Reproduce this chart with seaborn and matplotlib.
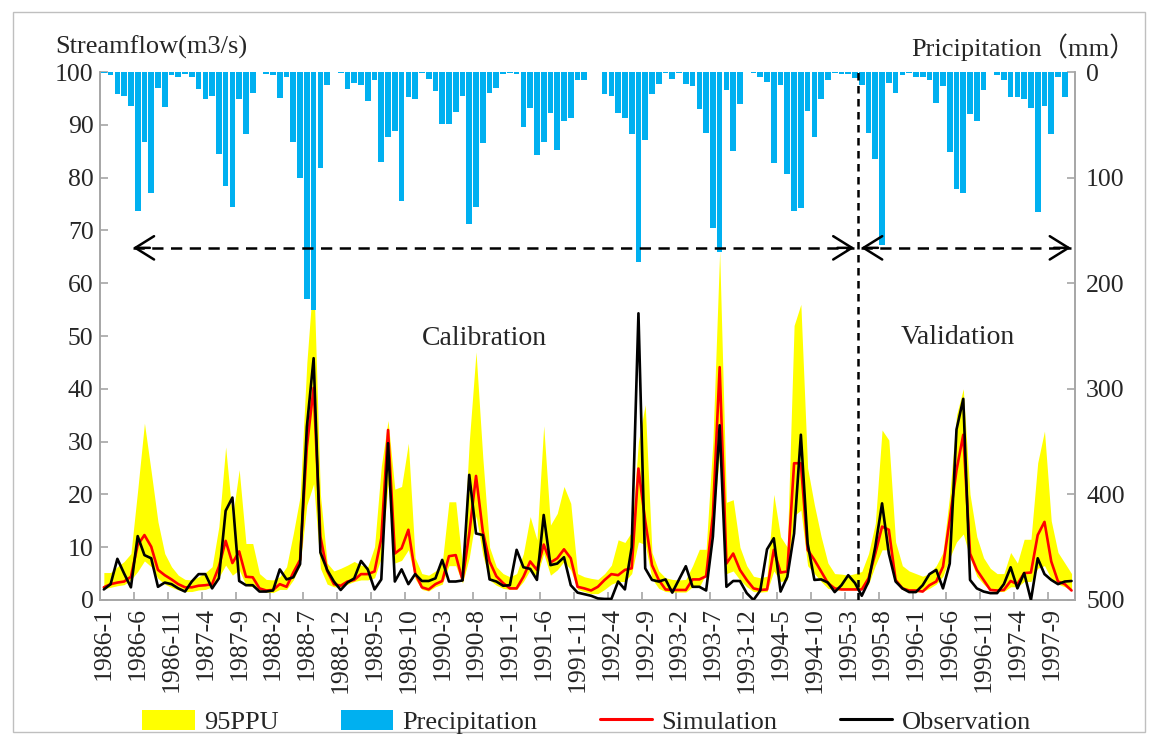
import numpy as np
import matplotlib
matplotlib.use("Agg")
import matplotlib.pyplot as plt
from matplotlib.patches import Patch, Rectangle
from matplotlib.lines import Line2D
import seaborn as sns

# ---------------- data (monthly, 1986-1 .. 1997-12) ----------------
precip = [
    1, 3, 21, 23, 32, 132, 66, 115, 15, 33, 3, 5,
    2, 5, 16, 26, 23, 78, 108, 128, 26, 59, 20, 0,
    2, 3, 25, 5, 66, 100, 215, 225, 91, 12, 0, 1,
    16, 10, 12, 27, 8, 85, 62, 56, 122, 24, 26, 1,
    7, 18, 49, 49, 38, 23, 144, 128, 67, 20, 15, 2,
    1, 2, 52, 34, 79, 66, 39, 74, 46, 44, 8, 8,
    0, 0, 21, 23, 39, 44, 59, 180, 64, 21, 11, 1,
    7, 1, 11, 13, 35, 58, 148, 170, 17, 75, 30, 0,
    1, 5, 9, 86, 12, 97, 132, 129, 37, 62, 26, 8,
    1, 2, 2, 6, 12, 58, 82, 164, 10, 20, 3, 1,
    5, 5, 8, 29, 13, 76, 111, 115, 40, 46, 17, 0,
    3, 8, 24, 24, 26, 34, 133, 32, 59, 5, 24, 0]

observation = [
    2.0, 3.0, 7.8, 5.0, 2.4, 12.1, 8.5, 7.9, 2.5, 3.3, 3.0, 2.2,
    1.6, 3.5, 4.9, 4.9, 2.2, 4.1, 16.9, 19.4, 3.6, 2.8, 2.8, 1.6,
    1.6, 1.8, 5.8, 3.9, 4.3, 6.8, 32.8, 45.8, 9.0, 5.7, 3.5, 1.9,
    3.3, 4.1, 7.4, 5.8, 2.0, 3.9, 29.7, 3.5, 5.8, 3.0, 4.9, 3.6,
    3.6, 4.1, 7.6, 3.5, 3.5, 3.7, 23.7, 12.6, 12.3, 3.9, 3.5, 2.7,
    2.8, 9.5, 6.2, 5.9, 3.8, 16.1, 6.6, 6.9, 8.1, 2.8, 1.4, 1.1,
    0.8, 0.3, 0.2, 0.2, 3.5, 2.0, 10.0, 54.3, 6.0, 3.8, 3.5, 3.9,
    1.4, 3.9, 6.4, 2.5, 2.5, 1.8, 12.0, 33.1, 2.5, 3.6, 3.6, 1.3,
    0.0, 1.8, 9.6, 11.7, 1.6, 4.4, 12.6, 31.3, 10.7, 3.8, 3.9, 3.3,
    1.5, 2.8, 4.7, 3.2, 0.8, 3.5, 10.1, 18.3, 8.8, 3.5, 2.2, 1.5,
    1.5, 2.8, 4.9, 5.7, 2.2, 6.9, 32.3, 38.1, 3.8, 2.2, 1.6, 1.3,
    1.3, 3.0, 6.2, 2.2, 5.1, 0.0, 7.9, 4.9, 3.8, 3.0, 3.5, 3.6]

simulation = [
    2.4, 3.0, 3.3, 3.5, 4.4, 10.4, 12.3, 10.1, 5.7, 4.7, 3.9, 3.0,
    2.4, 2.4, 2.7, 2.8, 3.0, 6.3, 11.2, 7.0, 9.2, 4.4, 4.3, 2.2,
    1.8, 1.9, 3.0, 2.5, 5.2, 7.6, 29.0, 40.2, 12.0, 5.5, 3.0, 2.7,
    3.5, 3.8, 4.9, 4.9, 5.4, 11.7, 32.2, 8.8, 9.8, 13.3, 5.1, 2.4,
    2.0, 3.0, 3.6, 8.3, 8.5, 3.8, 12.6, 23.5, 13.0, 7.3, 4.5, 3.2,
    2.2, 2.2, 4.4, 7.3, 5.7, 10.5, 7.1, 7.9, 9.6, 7.9, 2.5, 2.2,
    1.8, 2.5, 3.8, 4.9, 4.7, 5.7, 6.0, 24.9, 15.0, 6.6, 3.8, 2.0,
    1.9, 1.9, 1.9, 3.9, 3.9, 4.5, 16.0, 44.1, 6.9, 8.8, 5.7, 3.8,
    2.2, 1.9, 2.0, 9.5, 5.2, 5.4, 25.9, 25.9, 9.5, 7.6, 5.4, 3.2,
    2.2, 2.0, 2.0, 2.0, 2.0, 4.1, 8.8, 13.9, 13.3, 3.8, 2.2, 1.8,
    1.8, 1.6, 2.8, 3.5, 6.3, 15.2, 24.6, 31.3, 8.8, 5.7, 3.8, 1.9,
    1.8, 1.9, 3.6, 3.0, 5.1, 5.2, 12.3, 14.8, 7.3, 3.5, 3.0, 1.8]

ppu_upper = [
    5.2, 5.2, 6.3, 7.3, 8.8, 20.8, 33.5, 24.3, 14.8, 8.8, 6.3, 4.7,
    3.9, 3.8, 4.4, 5.2, 6.3, 13.9, 29.0, 15.5, 24.7, 10.7, 10.7, 5.0,
    3.9, 3.8, 4.4, 6.3, 12.6, 19.6, 45.0, 62.0, 20.0, 7.0, 5.5, 6.0,
    6.6, 7.3, 6.6, 6.3, 10.1, 25.3, 34.0, 21.0, 21.5, 29.7, 8.0, 5.0,
    4.7, 5.5, 7.0, 18.6, 18.6, 6.5, 30.0, 47.0, 27.0, 10.0, 6.3, 5.0,
    4.4, 5.0, 8.8, 15.8, 11.4, 33.0, 14.2, 16.4, 21.5, 18.3, 5.0, 4.4,
    4.1, 3.9, 5.0, 6.6, 11.4, 10.9, 12.9, 30.0, 37.0, 9.0, 5.5, 4.2,
    3.9, 3.8, 3.9, 6.5, 9.6, 9.6, 30.0, 66.0, 18.5, 19.0, 10.0, 6.5,
    4.5, 4.2, 4.5, 20.0, 12.0, 10.0, 52.0, 56.0, 25.0, 18.0, 12.0, 7.0,
    5.0, 4.9, 4.7, 5.0, 5.4, 8.8, 14.5, 32.2, 30.3, 11.0, 6.5, 5.5,
    5.0, 4.5, 5.0, 6.5, 9.0, 20.0, 35.0, 40.0, 20.0, 12.0, 8.0, 6.0,
    5.0, 5.0, 9.0, 7.0, 11.5, 11.5, 26.0, 32.0, 15.0, 9.0, 7.0, 5.0]

ppu_lower = [
    2.2, 2.4, 2.7, 2.9, 3.8, 5.4, 7.4, 6.3, 4.1, 3.0, 2.4, 1.9,
    1.6, 1.6, 1.9, 2.0, 2.5, 4.3, 6.6, 4.7, 5.7, 2.8, 2.5, 1.8,
    1.5, 1.4, 2.0, 2.0, 3.8, 6.6, 18.0, 22.0, 6.0, 3.0, 2.5, 2.4,
    3.0, 3.5, 3.8, 3.8, 4.2, 8.0, 22.0, 7.0, 7.5, 9.5, 4.0, 2.0,
    1.7, 2.5, 3.0, 6.5, 6.5, 3.2, 8.0, 16.0, 8.5, 3.8, 2.8, 2.2,
    2.0, 2.0, 3.5, 5.7, 4.5, 8.8, 4.7, 5.7, 7.3, 5.7, 2.0, 1.6,
    1.2, 1.2, 2.0, 3.0, 3.5, 3.5, 5.0, 11.0, 10.5, 4.0, 2.2, 1.6,
    1.5, 1.5, 1.5, 2.5, 2.5, 5.0, 14.0, 28.0, 5.0, 5.5, 3.8, 2.5,
    1.6, 1.5, 1.6, 5.5, 3.5, 3.8, 16.0, 17.0, 6.5, 5.0, 3.5, 2.2,
    1.9, 1.9, 1.9, 1.9, 2.0, 3.0, 6.5, 9.5, 9.5, 3.5, 2.0, 1.5,
    1.5, 1.6, 2.2, 3.0, 4.5, 8.0, 11.0, 12.5, 8.0, 4.5, 3.0, 1.8,
    1.6, 1.6, 2.5, 2.5, 3.5, 3.5, 6.0, 6.5, 4.0, 3.0, 2.5, 1.8]

tick_labels = ["1986-1", "1986-6", "1986-11", "1987-4", "1987-9", "1988-2",
               "1988-7", "1988-12", "1989-5", "1989-10", "1990-3", "1990-8",
               "1991-1", "1991-6", "1991-11", "1992-4", "1992-9", "1993-2",
               "1993-7", "1993-12", "1994-5", "1994-10", "1995-3", "1995-8",
               "1996-1", "1996-6", "1996-11", "1997-4", "1997-9"]

legend_labels = ["95PPU", "Precipitation", "Simulation", "Observation"]
period_labels = ["Calibration", "Validation"]

# annotation geometry (category units / streamflow units)
split_pos = 111.4
arrow_y = 66.7
calib_span = (4.3, 110.9)
valid_span = (111.9, 142.9)
calib_text_pos = (56.3, 49.6)
valid_text_pos = (126.2, 49.8)

# ---------------- style ----------------
sns.set_style("white")
plt.rcParams["font.family"] = ["Liberation Serif", "Noto Sans CJK SC", "DejaVu Sans"]
FS_TICK = 18.5
FS_TITLE = 19
FS_TEXT = 20
GRAY = "#a6a6a6"
YELLOW = "#FFFF00"
BLUE = "#00B0F0"

n = len(precip)
months = np.arange(n)

fig = plt.figure(figsize=(11.52, 7.38), dpi=100)
fig.patches.append(Rectangle((0.011, 0.008), 0.983, 0.976, transform=fig.transFigure,
                             fill=False, edgecolor="#bfbfbf", linewidth=1.0))

ax = fig.add_axes([0.0872, 0.187, 0.8459, 0.7154])
ax2 = ax.twinx()
ax3 = ax.twinx()
ax.set_zorder(1)
ax2.set_zorder(2)
ax3.set_zorder(3)
ax2.patch.set_visible(False)
ax3.patch.set_visible(False)

# 95PPU band
ax.fill_between(months, ppu_lower, ppu_upper, color=YELLOW, linewidth=0)

# precipitation bars (inverted right axis)
sns.barplot(x=months, y=precip, ax=ax2, color=BLUE, saturation=1, width=0.84,
            native_scale=True, errorbar=None, linewidth=0)
ax2.set_ylim(500, 0)

# lines
sns.lineplot(x=months, y=simulation, ax=ax3, color="#FF0000", linewidth=1.9)
sns.lineplot(x=months, y=observation, ax=ax3, color="#000000", linewidth=1.9)

ax.set_xlim(-0.5, n - 0.5)
ax3.set_xlim(-0.5, n - 0.5)
ax.set_ylim(0, 100)
ax3.set_ylim(0, 100)
ax3.axis("off")

# period markers
ax3.axvline(split_pos, color="black", linewidth=1.8, linestyle=(0, (3.0, 2.2)))
for (x0, x1) in (calib_span, valid_span):
    ax3.plot([x0, x1], [arrow_y, arrow_y], color="black", linewidth=1.8,
             linestyle=(0, (4.5, 3.0)))
    for tip, tail in ((x0, x0 + 2.5), (x1, x1 - 2.5)):
        ax3.annotate("", xy=(tip, arrow_y), xytext=(tail, arrow_y),
                     arrowprops=dict(arrowstyle="->,head_length=0.45,head_width=0.28",
                                     mutation_scale=30, lw=1.8, color="black",
                                     shrinkA=0, shrinkB=0))
ax3.text(*calib_text_pos, period_labels[0], ha="center", va="center", fontsize=FS_TEXT)
ax3.text(*valid_text_pos, period_labels[1], ha="center", va="center", fontsize=FS_TEXT)

# axes styling
ax.set_yticks(np.arange(0, 101, 10))
ax.set_yticklabels([str(v) for v in range(0, 101, 10)], fontsize=FS_TICK)
ax2.set_yticks(np.arange(0, 501, 100))
ax2.set_yticklabels([str(v) for v in range(0, 501, 100)], fontsize=FS_TICK)

ax.set_xticks(np.arange(0, n, 5))
ax.set_xticklabels(tick_labels, rotation=90, fontsize=FS_TICK)
ax.set_xticks(np.arange(4.5, n, 5), minor=True)
ax.set_xlim(-0.5, n - 0.5)
ax.tick_params(axis="x", which="major", length=0, pad=5, bottom=True, labelbottom=True)
ax.tick_params(axis="x", which="minor", direction="in", length=6, color=GRAY, width=1.2,
               bottom=True)
ax.tick_params(axis="y", direction="in", length=6, color=GRAY, width=1.2, pad=5, left=True)
ax2.tick_params(axis="y", direction="in", length=6, color=GRAY, width=1.2, pad=8, right=True)
ax.set_xlabel("")
ax2.set_xlabel("")
ax2.set_ylabel("")

for a in (ax, ax2):
    a.spines["top"].set_visible(False)
    for s in ("left", "right", "bottom"):
        a.spines[s].set_color(GRAY)
        a.spines[s].set_linewidth(1.2)

# axis titles
fig.text(55 / 1152, 1 - 47 / 738, "Streamflow(m3/s)", ha="left", va="center", fontsize=FS_TITLE)
fig.text(1136 / 1152, 1 - 47 / 738, "Pricipitation（mm）", ha="right", va="center",
         fontsize=FS_TITLE)

# legend
handles = [Patch(facecolor=YELLOW, edgecolor="none"),
           Patch(facecolor=BLUE, edgecolor="none"),
           Line2D([], [], color="#FF0000", linewidth=2.2),
           Line2D([], [], color="black", linewidth=2.2)]
fig.legend(handles, legend_labels, loc="center", bbox_to_anchor=(0.509, 0.022), ncol=4,
           frameon=False, fontsize=FS_TITLE, handlelength=2.0, handleheight=0.8,
           handletextpad=0.35, columnspacing=2.35)

fig.savefig("out.png", dpi=100)
